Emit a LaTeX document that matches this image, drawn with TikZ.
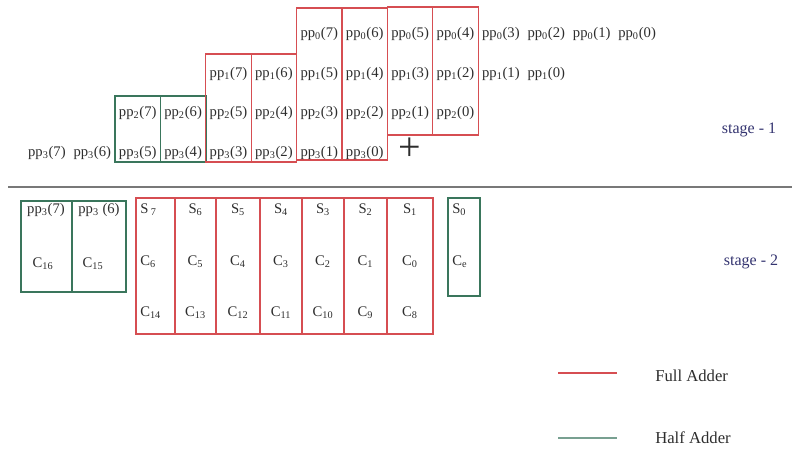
\documentclass[tikz,border=0pt]{standalone}
\usepackage{fontspec}
\setmainfont{Liberation Serif}
\definecolor{fared}{RGB}{214,78,82}
\definecolor{hagreen}{RGB}{58,118,92}
\definecolor{hagreenl}{RGB}{120,160,145}
\definecolor{stageblue}{RGB}{52,52,112}
\definecolor{txt}{RGB}{45,45,45}
\definecolor{rule}{RGB}{120,120,120}
\tikzset{
  pp/.style={font=\fontsize{11}{12}\selectfont, text=txt, inner sep=0pt},
  sc/.style={font=\fontsize{11}{12}\selectfont, text=txt, inner sep=0pt},
  fabox/.style={draw=fared, line width=0.9pt},
  habox/.style={draw=hagreen, line width=1.1pt},
  stagelbl/.style={font=\fontsize{12}{14}\selectfont, text=stageblue, inner sep=0pt},
  legtxt/.style={font=\fontsize{12.5}{14}\selectfont, text=txt, inner sep=0pt, anchor=west},
}
\begin{document}
\begin{tikzpicture}[x=0.75pt,y=-0.75pt]
\useasboundingbox (0,0) rectangle (792,450);
% ---------- stage 1 boxes ----------
% green half adders (columns g=0,1)
\draw[habox] (115,96) rectangle (160.4,162);
\draw[habox] (160.4,96) rectangle (205.8,162);
% red full adders
\draw[fabox] (205.8,54) rectangle (251.2,162);
\draw[fabox] (251.2,54) rectangle (296.6,162);
\draw[fabox] (296.6,8) rectangle (342,160);
\draw[fabox] (342,8) rectangle (387.4,160);
\draw[fabox] (387.4,7) rectangle (432.8,135);
\draw[fabox] (432.8,7) rectangle (478.2,135);
% ---------- stage 1 texts ----------
\foreach \r in {0,1,2,3}{
  \foreach \i in {0,...,7}{
    \pgfmathsetmacro{\gx}{115+45.4*(11-\i-2*\r)+22.7}
    \pgfmathsetmacro{\gy}{34+39.5*\r}
    \node[pp] (pp\r-\i) at (\gx,\gy) {pp\textsubscript{\r}(\i)};
  }
}
\node[font=\fontsize{30}{30}\selectfont, text=txt, inner sep=0pt] (plus) at (410,149) {+};
\node[stagelbl] (stage1) at (749,130) {stage - 1};
% ---------- separator ----------
\coordinate (ruleL) at (8,187);
\coordinate (ruleR) at (792,187);
\draw[rule, line width=1.2pt] (ruleL) -- (ruleR);
% ---------- stage 2 ----------
\draw[habox] (21,201) rectangle (72,292);
\draw[habox] (72,201) rectangle (126,292);
\node[sc] (h7) at (46,210) {pp\textsubscript{3}(7)};
\node[sc] (h6) at (99,210) {pp\textsubscript{3} (6)};
\node[sc] (c16) at (43,264) {C\textsubscript{16}};
\node[sc] (c15) at (93,264) {C\textsubscript{15}};
\foreach \a/\b in {136/175,175/216,216/260,260/302,302/344,344/387,387/433}{
  \draw[fabox] (\a,198) rectangle (\b,334);
}
\node[sc, anchor=west] (s7) at (140,210) {S\textsubscript{ 7}};
\node[sc, anchor=west] (c6) at (140,262) {C\textsubscript{6}};
\node[sc, anchor=west] (c14) at (140,313) {C\textsubscript{14}};
\foreach \x/\s/\c/\d in {195.5/6/5/13, 238/5/4/12, 281/4/3/11, 323/3/2/10, 365.5/2/1/9, 410/1/0/8}{
  \node[sc] (s\s) at (\x,210) {S\textsubscript{\s}};
  \node[sc] (c\c) at (\x,262) {C\textsubscript{\c}};
  \node[sc] (c\d) at (\x,313) {C\textsubscript{\d}};
}
\draw[habox] (448,198) rectangle (480,296);
\node[sc, anchor=west] (s0) at (452,210) {S\textsubscript{0}};
\node[sc, anchor=west] (ce) at (452,262) {C\textsubscript{e}};
\node[stagelbl] (stage2) at (751,262) {stage - 2};
% ---------- legend ----------
\coordinate (faL) at (558,373);
\coordinate (faR) at (617,373);
\coordinate (haL) at (558,438);
\coordinate (haR) at (617,438);
\draw[fared, line width=1.4pt] (faL) -- (faR);
\draw[hagreenl, line width=1.8pt] (haL) -- (haR);
\node[legtxt] (fatxt) at (655,376) {Full Adder};
\node[legtxt] (hatxt) at (655,438) {Half Adder};
\end{tikzpicture}
\end{document}
